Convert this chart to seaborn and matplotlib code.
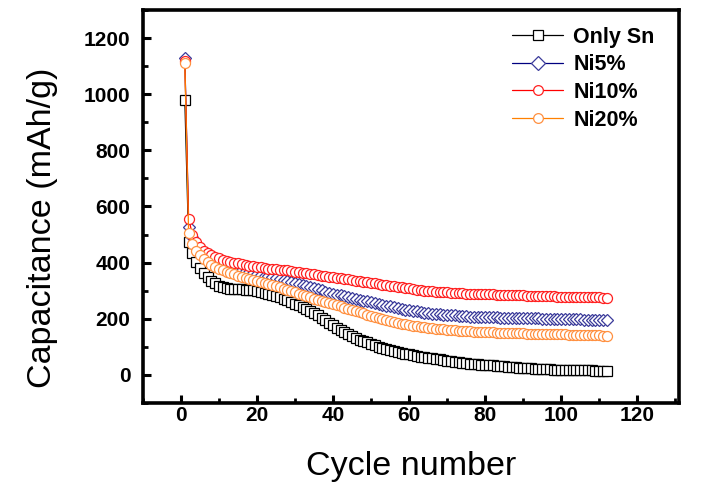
import matplotlib
matplotlib.use('Agg')
import matplotlib.pyplot as plt
import seaborn as sns
from matplotlib.ticker import MultipleLocator

# cycle index and capacities (mAh/g)
cycles = list(range(1, 113))

only_sn = [980, 475, 435, 402, 381, 363, 348, 336, 326, 318,
           313, 309, 307, 305, 305, 305, 304, 303, 301, 299,
           296, 293, 289, 285, 281, 276, 271, 266, 260, 254,
           248, 241, 234, 227, 219, 212, 204, 195, 186, 177,
           168, 160, 152, 145, 138, 132, 126, 121, 116, 111,
           106, 101, 96, 92, 88, 85, 82, 79, 76, 73,
           70, 67, 65, 63, 61, 59, 57, 55, 53, 51,
           49, 47, 45, 43, 41, 40, 39, 38, 37, 36,
           35, 34, 33, 31, 30, 29, 28, 27, 26, 25,
           24, 23, 22, 21, 21, 20, 20, 19, 19, 18,
           18, 18, 17, 17, 17, 16, 16, 16, 15, 15,
           15, 14]

ni5 = [1130, 527, 490, 466, 449, 436, 425, 416, 408, 402,
       396, 391, 387, 383, 379, 375, 371, 367, 364, 360,
       357, 354, 351, 348, 345, 342, 339, 335, 332, 328,
       325, 321, 317, 313, 309, 305, 301, 297, 293, 289,
       286, 283, 280, 277, 274, 271, 268, 265, 262, 259,
       256, 253, 250, 247, 244, 241, 238, 235, 232, 230,
       228, 226, 224, 222, 220, 218, 217, 216, 215, 214,
       213, 212, 211, 210, 209, 208, 208, 207, 207, 206,
       206, 205, 205, 204, 204, 203, 203, 203, 202, 202,
       202, 201, 201, 201, 200, 200, 200, 199, 199, 199,
       199, 198, 198, 198, 198, 197, 197, 197, 197, 196,
       196, 196]

ni10 = [1120, 557, 500, 472, 455, 443, 434, 426, 420, 415,
        410, 406, 403, 400, 397, 394, 391, 389, 387, 385,
        383, 381, 379, 378, 376, 375, 373, 372, 370, 368,
        366, 364, 362, 360, 358, 356, 354, 352, 350, 348,
        346, 344, 342, 340, 338, 336, 334, 332, 330, 328,
        326, 324, 322, 320, 318, 316, 314, 312, 310, 308,
        306, 304, 302, 300, 299, 298, 297, 296, 295, 294,
        293, 292, 291, 291, 290, 290, 289, 289, 288, 288,
        287, 287, 286, 286, 285, 285, 284, 284, 283, 283,
        282, 282, 281, 281, 281, 280, 280, 280, 279, 279,
        279, 278, 278, 278, 277, 277, 277, 276, 276, 276,
        275, 275]

ni20 = [1110, 505, 468, 443, 426, 413, 402, 393, 385, 378,
        372, 367, 363, 358, 354, 350, 346, 342, 339, 335,
        331, 327, 323, 320, 316, 312, 307, 303, 298, 294,
        289, 285, 281, 276, 272, 268, 264, 260, 256, 252,
        248, 244, 240, 236, 232, 228, 224, 220, 215, 211,
        207, 203, 199, 195, 192, 189, 186, 183, 180, 178,
        176, 174, 172, 170, 168, 166, 164, 163, 162, 161,
        160, 159, 158, 157, 156, 155, 154, 154, 153, 153,
        152, 152, 151, 151, 150, 150, 149, 149, 148, 148,
        147, 147, 146, 146, 146, 145, 145, 145, 144, 144,
        144, 143, 143, 143, 142, 142, 142, 141, 141, 141,
        140, 140]

sns.set_style('ticks')
plt.rcParams['font.family'] = ['Liberation Sans', 'DejaVu Sans']
plt.rcParams['text.color'] = 'black'
plt.rcParams['axes.labelcolor'] = 'black'
plt.rcParams['xtick.color'] = 'black'
plt.rcParams['ytick.color'] = 'black'

fig = plt.figure(figsize=(7.27, 4.95), dpi=100)
ax = fig.add_axes([0.1967, 0.1859, 0.7373, 0.7939])

series = [
    ('Only Sn', only_sn, 's', 'black', 'black'),
    ('Ni5%', ni5, 'D', '#000080', '#3a3a9a'),
    ('Ni10%', ni10, 'o', '#ff0000', '#ff2020'),
    ('Ni20%', ni20, 'o', '#ff8000', '#ff9040'),
]
for name, vals, mk, col, edge in series:
    ms = 6.2 if mk == 'D' else 7.2
    sns.lineplot(x=cycles, y=vals, ax=ax, color=col, linewidth=0.9,
                 marker=mk, markersize=ms, markerfacecolor='white',
                 markeredgecolor=edge, markeredgewidth=0.9, label=name)

ax.set_xlim(-10, 131)
ax.set_ylim(-100, 1300)
ax.xaxis.set_major_locator(MultipleLocator(20))
ax.xaxis.set_minor_locator(MultipleLocator(10))
ax.yaxis.set_major_locator(MultipleLocator(200))
ax.yaxis.set_minor_locator(MultipleLocator(100))

for s in ax.spines.values():
    s.set_linewidth(2.6)
    s.set_color('black')
ax.tick_params(which='major', direction='in', length=6, width=2.2,
               top=False, right=False, labelsize=15, pad=2)
ax.tick_params(which='minor', direction='in', length=3.5, width=2.0,
               top=False, right=False)
ax.tick_params(axis='y', which='major', pad=9)
for lab in ax.get_xticklabels() + ax.get_yticklabels():
    lab.set_fontweight('bold')

ax.set_xlabel('Cycle number', fontsize=24.5)
ax.set_ylabel('Capacitance (mAh/g)', fontsize=24.5)
ax.xaxis.set_label_coords(0.5, -0.123)
ax.yaxis.set_label_coords(-0.159, 0.447)

leg = ax.legend(loc='upper left', bbox_to_anchor=(0.688, 0.958), frameon=False,
                prop={'size': 15.5, 'weight': 'bold'}, handlelength=2.4,
                handletextpad=0.45, labelspacing=0.31, borderpad=0,
                borderaxespad=0)
for h in leg.legend_handles:
    h.set_markersize(7)

fig.savefig('out.png', dpi=100)
